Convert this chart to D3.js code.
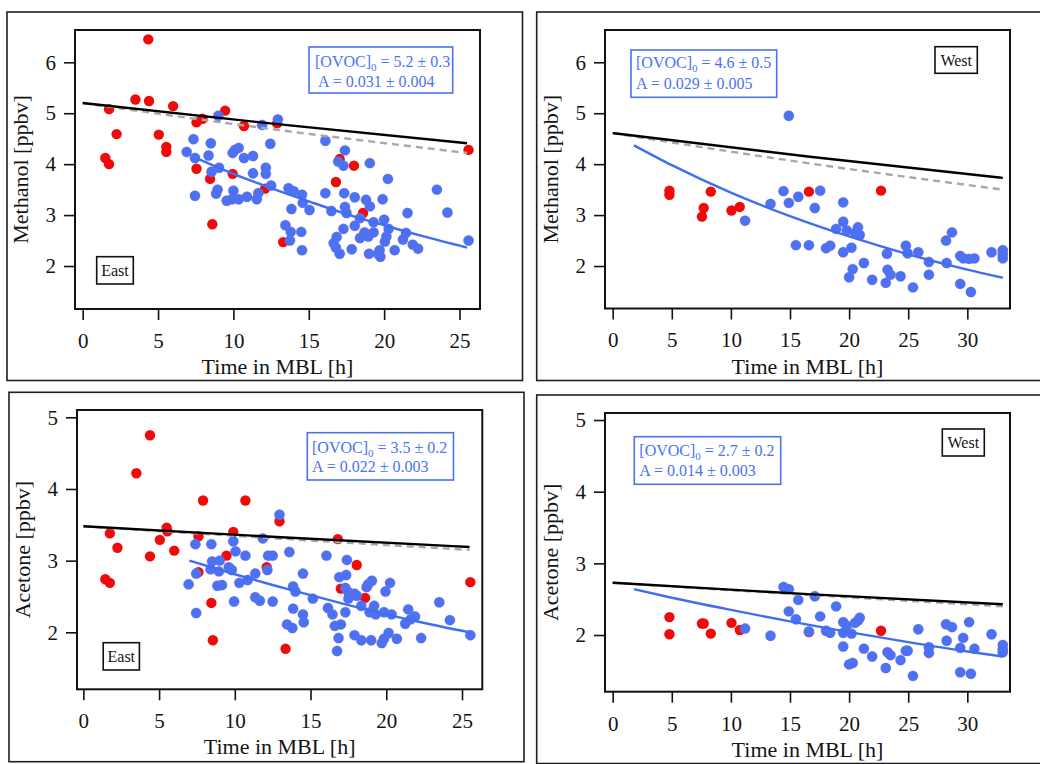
<!DOCTYPE html>
<html><head><meta charset="utf-8">
<script src="https://cdn.jsdelivr.net/npm/d3@7"></script>
<style>
body{margin:0;background:#fff;}
svg{display:block;}
text{font-family:"Liberation Serif","Times New Roman",serif;}
</style></head><body>
<svg id="chart" width="1040" height="764"></svg>
<script>
// ---------- DATA ----------
// Methanol, East
const methEastRedT = [1.5,1.75,1.75,2.25,3.5,4.35,4.4,5.05,5.55,5.55,6.0,7.55,7.95,7.55,8.45,8.6,9.45,9.95,10.7,12.1,12.9,13.3,16.8,17.05,18.0,18.6,25.6];
const methEastRedV = [4.12,4.0,5.08,4.59,5.27,6.45,5.24,4.58,4.34,4.24,5.14,4.82,4.89,3.91,3.71,2.82,5.05,3.81,4.75,3.52,4.8,2.47,3.65,4.1,3.97,3.04,4.28];
const methEastBlueT = [6.9,7.35,7.45,7.45,8.35,8.5,8.55,8.85,8.95,9.0,9.05,9.55,9.9,9.95,10.0,10.1,10.35,10.35,10.7,10.9,11.3,11.3,11.55,11.65,11.9,12.15,12.15,12.45,12.5,12.95,13.45,13.65,13.75,13.8,13.85,14.0,14.5,14.55,14.55,14.6,15.05,16.1,16.1,16.5,16.65,16.8,16.85,16.95,17.05,17.3,17.3,17.35,17.4,17.4,17.5,17.85,18.05,18.05,18.4,18.4,18.7,18.8,18.95,19.0,19.05,19.05,19.3,19.3,19.6,19.7,19.75,19.9,20.0,20.05,20.15,20.25,20.3,20.7,21.25,21.45,21.55,21.9,22.25,23.5,24.2,25.6];
const methEastBlueV = [4.24,4.49,4.12,3.38,4.17,4.41,3.85,3.42,3.5,4.95,3.93,3.28,3.31,4.22,3.48,4.28,4.32,3.31,4.12,3.36,4.16,3.82,3.31,3.43,4.77,3.93,3.81,4.4,3.58,4.88,2.8,3.53,2.5,2.67,3.12,3.47,2.67,3.4,2.31,3.24,3.1,4.46,3.43,3.08,2.45,2.36,2.57,4.05,2.24,3.97,2.73,3.43,4.27,3.16,3.04,2.33,3.35,2.79,2.94,2.55,2.66,3.3,2.58,2.24,4.02,3.17,2.86,2.66,2.24,2.31,2.18,3.31,2.91,2.48,2.58,3.71,2.73,2.31,2.52,2.65,3.04,2.42,2.34,3.5,3.05,2.5];
const methEastFitT = [7.7,10,12.5,15,17.5,20,22.5,25.5];
const methEastFitV = [4.10,3.81,3.53,3.27,3.02,2.80,2.59,2.36];
const methEastBlackT = [0,12.75,25.5];
const methEastBlackV = [5.20,4.79,4.41];
const methEastGrayT = [0,12.75,25.5];
const methEastGrayV = [5.20,4.68,4.22];

// Methanol, West
const methWestRedT = [4.8,4.8,7.55,7.7,8.3,10.05,10.75,16.6,22.7];
const methWestRedV = [3.48,3.4,2.97,3.14,3.46,3.09,3.16,3.46,3.48];
const methWestBlueT = [11.2,13.35,14.45,14.9,14.9,15.5,15.7,16.6,17.1,17.55,18.05,18.4,18.9,19.5,19.5,19.5,19.8,20.0,20.2,20.3,20.5,20.75,20.9,21.25,21.95,23.1,23.2,23.25,23.5,24.35,24.8,24.95,25.4,25.85,26.75,26.75,28.2,28.25,28.7,29.4,29.4,29.65,30.15,30.3,30.6,32.05,33.0,33.0,33.0];
const methWestBlueV = [2.89,3.22,3.47,4.95,3.24,2.41,3.36,2.41,3.14,3.48,2.35,2.4,2.73,3.25,2.87,2.27,2.7,1.78,2.36,1.94,2.65,2.76,2.61,2.06,1.73,1.67,2.24,1.93,1.83,1.8,2.4,2.25,1.58,2.27,2.08,1.83,2.5,2.06,2.66,2.2,1.65,2.15,2.14,1.49,2.15,2.27,2.31,2.23,2.15];
const methWestFitT = [1.8,5,10,15,20,25,30,33];
const methWestFitV = [4.37,3.98,3.44,2.98,2.58,2.23,1.93,1.77];
const methWestBlackT = [0,16.5,33];
const methWestBlackV = [4.61,4.15,3.73];
const methWestGrayT = [0,16.5,33];
const methWestGrayV = [4.61,4.02,3.50];

// Acetone, East
const aceEastRedT = [1.45,1.75,1.75,2.25,3.5,4.4,4.4,5.05,5.5,5.55,6.0,7.6,7.6,7.9,8.45,8.55,9.45,9.9,10.7,12.1,12.95,13.35,16.8,17.0,18.05,18.6,25.55];
const aceEastRedV = [2.74,2.69,3.38,3.18,4.22,4.75,3.06,3.29,3.46,3.41,3.14,3.34,2.84,3.84,2.41,1.89,3.07,3.4,3.84,2.91,3.55,1.77,3.3,2.61,2.94,2.48,2.7];
const aceEastBlueT = [6.95,7.4,7.45,7.45,8.4,8.45,8.5,8.85,8.95,9.0,9.15,9.6,9.8,9.9,9.95,10.05,10.3,10.7,10.85,11.35,11.35,11.65,11.85,12.15,12.2,12.5,12.5,12.95,13.45,13.6,13.8,13.85,13.85,14.0,14.5,14.5,14.55,15.15,16.05,16.15,16.45,16.6,16.75,16.85,16.9,17.0,17.3,17.3,17.35,17.4,17.5,17.5,17.9,17.9,18.05,18.35,18.35,18.7,18.8,18.9,19.0,19.05,19.2,19.3,19.7,19.85,19.85,19.95,20.15,20.25,20.35,20.7,21.25,21.45,21.6,21.9,22.3,23.5,24.2,25.55];
const aceEastBlueV = [2.67,3.23,2.82,2.27,2.88,3.23,2.99,2.65,2.85,3.0,2.66,2.91,2.87,3.27,2.43,3.13,2.69,3.07,2.73,2.82,2.49,2.44,3.31,2.87,3.07,3.07,2.43,3.64,2.11,3.12,2.06,2.64,2.33,2.57,2.82,2.25,2.14,2.47,3.07,2.34,2.25,2.09,1.74,1.92,2.77,2.11,2.62,2.28,2.8,3.01,2.56,2.47,2.54,1.96,2.51,2.37,1.89,2.63,2.67,2.28,1.89,2.72,2.37,2.25,1.85,1.91,2.28,2.57,1.99,2.69,2.25,1.91,2.12,2.32,2.18,2.22,1.92,2.42,2.17,1.96];
const aceEastFitT = [7,10,12.5,15,17.5,20,22.5,25.5];
const aceEastFitV = [3.00,2.81,2.66,2.52,2.38,2.25,2.13,2.00];
const aceEastBlackT = [0,12.75,25.5];
const aceEastBlackV = [3.48,3.33,3.19];
const aceEastGrayT = [0,12.75,25.5];
const aceEastGrayV = [3.48,3.31,3.15];

// Acetone, West
const aceWestRedT = [4.8,4.8,7.55,7.7,8.3,10.05,10.75,16.6,22.7];
const aceWestRedV = [2.25,2.01,2.16,2.16,2.02,2.17,2.07,2.04,2.06];
const aceWestBlueT = [11.2,13.35,14.45,14.9,14.9,15.5,15.7,16.6,17.1,17.55,18.05,18.4,18.9,19.5,19.5,19.5,19.8,20.0,20.2,20.3,20.5,20.75,20.9,21.25,21.95,23.1,23.25,23.5,24.35,24.8,24.95,25.4,25.85,26.75,26.75,28.2,28.25,28.7,29.4,29.4,29.65,30.15,30.3,30.6,32.05,33.0,33.0,33.0];
const aceWestBlueV = [2.09,1.99,2.67,2.64,2.33,2.22,2.49,2.05,2.54,2.26,2.06,2.03,2.4,2.18,2.03,1.84,2.13,1.59,2.02,1.61,2.17,2.2,2.24,1.81,1.7,1.54,1.76,1.72,1.65,1.78,1.78,1.43,2.08,1.83,1.75,2.15,1.92,2.11,1.48,1.82,1.96,2.18,1.46,1.81,2.01,1.86,1.8,1.76];
const aceWestFitT = [1.8,5,10,15,20,25,30,33];
const aceWestFitV = [2.64,2.52,2.35,2.19,2.04,1.90,1.77,1.70];
const aceWestBlackT = [0,16.5,33];
const aceWestBlackV = [2.73,2.57,2.43];
const aceWestGrayT = [0,16.5,33];
const aceWestGrayV = [2.73,2.56,2.40];

// Ticks and labels
const eastXTicks = [0,5,10,15,20,25];
const westXTicks = [0,5,10,15,20,25,30];
const methYTicks = [2,3,4,5,6];
const aceYTicks = [2,3,4,5];
const xTitle = "Time in MBL [h]";
const methTitle = "Methanol [ppbv]";
const aceTitle = "Acetone [ppbv]";
const fitC0 = ["5.2 ± 0.3","4.6 ± 0.5","3.5 ± 0.2","2.7 ± 0.2"];
const fitA = ["0.031 ± 0.004","0.029 ± 0.005","0.022 ± 0.003","0.014 ± 0.003"];
const regionNames = ["East","West","East","West"];

// ---------- STYLE / LAYOUT ----------
const RED = "#f20a0a", BLUE = "#4a72f2", FITBLUE = "#3f6ef0", INK = "#141414";
const zip = (t, v) => t.map((d, i) => ({t: d, v: v[i]}));

const panels = [
  {outer:[7,12,515.5,368.5], f:[75,480,30,309], xd:[-0.51,26.36], yd:[1.156,6.634], xt:eastXTicks, yt:methYTicks, yl:methTitle,
   red:zip(methEastRedT,methEastRedV), blue:zip(methEastBlueT,methEastBlueV), fit:zip(methEastFitT,methEastFitV),
   black:zip(methEastBlackT,methEastBlackV), gray:zip(methEastGrayT,methEastGrayV),
   leg:{box:[309,47,143.7,46], l1:[315,66.7], l2:[318,87]}, reg:{box:[96.7,256.7,36.6,27.3], tx:[115,276]}},
  {outer:[536.7,12,510,368.5], f:[605,1010,30,308.5], xd:[-0.65,33.61], yd:[1.166,6.634], xt:westXTicks, yt:methYTicks, yl:methTitle,
   red:zip(methWestRedT,methWestRedV), blue:zip(methWestBlueT,methWestBlueV), fit:zip(methWestFitT,methWestFitV),
   black:zip(methWestBlackT,methWestBlackV), gray:zip(methWestGrayT,methWestGrayV),
   leg:{box:[631,50,145.7,47.3], l1:[636,68.3], l2:[636,89.3]}, reg:{box:[935,46.7,42.3,26.6], tx:[956.2,65.7]}},
  {outer:[9,392.3,515,369.4], f:[77,482.3,410,689.3], xd:[-0.42,26.34], yd:[1.205,5.102], xt:eastXTicks, yt:aceYTicks, yl:aceTitle,
   red:zip(aceEastRedT,aceEastRedV), blue:zip(aceEastBlueT,aceEastBlueV), fit:zip(aceEastFitT,aceEastFitV),
   black:zip(aceEastBlackT,aceEastBlackV), gray:zip(aceEastGrayT,aceEastGrayV),
   leg:{box:[307.3,432.7,146.2,47.3], l1:[312,452.7], l2:[312,472.3]}, reg:{box:[103.2,642.7,36.2,27.3], tx:[121.3,662.3]}},
  {outer:[536.7,395,510,368.5], f:[605,1010,413,691.7], xd:[-0.65,33.61], yd:[1.209,5.098], xt:westXTicks, yt:aceYTicks, yl:aceTitle,
   red:zip(aceWestRedT,aceWestRedV), blue:zip(aceWestBlueT,aceWestBlueV), fit:zip(aceWestFitT,aceWestFitV),
   black:zip(aceWestBlackT,aceWestBlackV), gray:zip(aceWestGrayT,aceWestGrayV),
   leg:{box:[634.3,436.7,146.4,47.6], l1:[639.3,455.7], l2:[639.3,475.7]}, reg:{box:[942.3,429,42,27], tx:[963.3,448.3]}}
];

const svg = d3.select("#chart");
svg.append("rect").attr("width",1040).attr("height",764).attr("fill","#fff");

panels.forEach((p, i) => {
  const g = svg.append("g");
  const [fx0, fx1, fy0, fy1] = p.f;
  g.append("rect").attr("x",p.outer[0]).attr("y",p.outer[1]).attr("width",p.outer[2]).attr("height",p.outer[3])
    .attr("fill","none").attr("stroke","#1e1e1e").attr("stroke-width",1.6);

  const x = d3.scaleLinear().domain(p.xd).range([fx0, fx1]);
  const y = d3.scaleLinear().domain(p.yd).range([fy1, fy0]);

  g.selectAll(".r").data(p.red).join("circle").attr("class","r")
    .attr("cx",d=>x(d.t)).attr("cy",d=>y(d.v)).attr("r",5.2).attr("fill",RED);
  g.selectAll(".b").data(p.blue).join("circle").attr("class","b")
    .attr("cx",d=>x(d.t)).attr("cy",d=>y(d.v)).attr("r",5.2).attr("fill",BLUE)
    .attr("stroke","rgba(170,90,200,0.35)").attr("stroke-width",0.6);

  const line = d3.line().x(d=>x(d.t)).y(d=>y(d.v)).curve(d3.curveMonotoneX);
  g.append("path").attr("d",line(p.gray)).attr("fill","none").attr("stroke","#a8a8a8").attr("stroke-width",2.4).attr("stroke-dasharray","7,5");
  g.append("path").attr("d",line(p.black)).attr("fill","none").attr("stroke","#000").attr("stroke-width",2.4);
  g.append("path").attr("d",line(p.fit)).attr("fill","none").attr("stroke",FITBLUE).attr("stroke-width",2.4);

  g.append("rect").attr("x",fx0).attr("y",fy0).attr("width",fx1-fx0).attr("height",fy1-fy0)
    .attr("fill","none").attr("stroke","#111").attr("stroke-width",2);

  const xa = g.append("g").attr("transform",`translate(0,${fy1})`)
    .call(d3.axisBottom(x).tickValues(p.xt).tickFormat(d3.format("d")).tickSize(11).tickSizeOuter(0).tickPadding(13));
  const ya = g.append("g").attr("transform",`translate(${fx0},0)`)
    .call(d3.axisLeft(y).tickValues(p.yt).tickFormat(d3.format("d")).tickSize(11).tickSizeOuter(0).tickPadding(8));
  [xa, ya].forEach(a => {
    a.select(".domain").remove();
    a.selectAll(".tick line").attr("stroke","#111").attr("stroke-width",1.6);
    a.selectAll(".tick text").attr("fill",INK).style("font-size","21px").style("font-family",'"Liberation Serif",serif');
  });

  g.append("text").attr("x",(fx0+fx1)/2).attr("y",fy1+65).attr("text-anchor","middle")
    .attr("fill",INK).style("font-size","22px").text(xTitle);
  g.append("text").attr("transform",`translate(${fx0-53},${(fy0+fy1)/2}) rotate(-90)`).attr("dy","0.25em")
    .attr("text-anchor","middle").attr("fill",INK).style("font-size","22px").text(p.yl);

  // fit legend
  const L = p.leg;
  g.append("rect").attr("x",L.box[0]).attr("y",L.box[1]).attr("width",L.box[2]).attr("height",L.box[3])
    .attr("fill","#fff").attr("stroke",BLUE).attr("stroke-width",1.6);
  const t1 = g.append("text").attr("x",L.l1[0]).attr("y",L.l1[1]).attr("fill",BLUE).style("font-size","16px");
  t1.append("tspan").text("[OVOC]");
  t1.append("tspan").attr("dy",4).style("font-size","11px").text("0");
  t1.append("tspan").attr("dy",-4).text(" = " + fitC0[i]);
  g.append("text").attr("x",L.l2[0]).attr("y",L.l2[1]).attr("fill",BLUE).style("font-size","16px").text("A = " + fitA[i]);

  // region label
  const R = p.reg;
  g.append("rect").attr("x",R.box[0]).attr("y",R.box[1]).attr("width",R.box[2]).attr("height",R.box[3])
    .attr("fill","#fff").attr("stroke","#111").attr("stroke-width",1.6);
  g.append("text").attr("x",R.tx[0]).attr("y",R.tx[1]).attr("text-anchor","middle").attr("fill",INK)
    .style("font-size","16px").text(regionNames[i]);
});
</script>
</body></html>
